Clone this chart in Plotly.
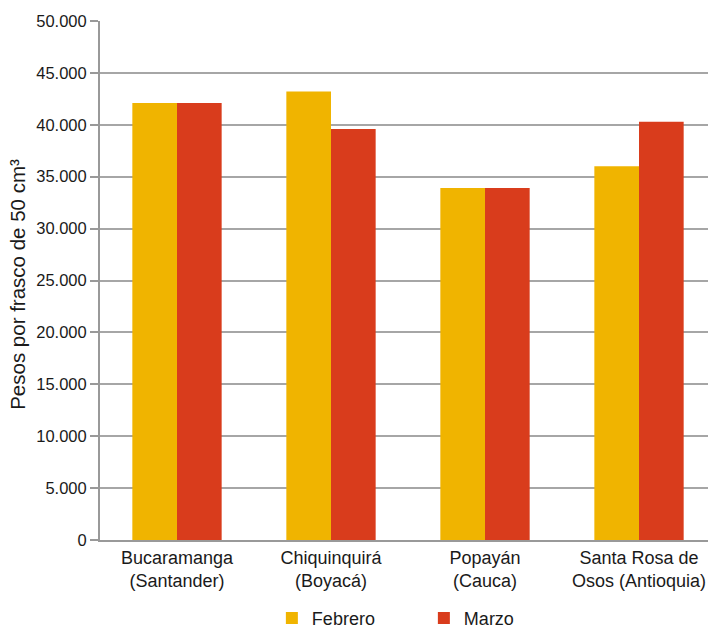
import plotly.graph_objects as go

categories = ["Bucaramanga<br>(Santander)", "Chiquinquirá<br>(Boyacá)", "Popayán<br>(Cauca)", "Santa Rosa de<br>Osos (Antioquia)"]
febrero = [42100, 43200, 33900, 36000]
marzo = [42100, 39600, 33900, 40300]
y_ticks = [0, 5000, 10000, 15000, 20000, 25000, 30000, 35000, 40000, 45000, 50000]

fig = go.Figure()
fig.add_trace(go.Bar(name="Febrero", x=list(range(len(categories))), y=febrero,
                     marker=dict(color="#F0B400", line=dict(width=0))))
fig.add_trace(go.Bar(name="Marzo", x=list(range(len(categories))), y=marzo,
                     marker=dict(color="#D93C1C", line=dict(width=0))))

fig.update_layout(
    width=708, height=629,
    margin=dict(l=100, r=0, t=21, b=89, autoexpand=False),
    paper_bgcolor="white", plot_bgcolor="white",
    barmode="group", bargap=0.42, bargroupgap=0,
    separators=",.",
    font=dict(family="Liberation Sans, Arial, sans-serif", size=16.5, color="#1a1a1a"),
    legend=dict(orientation="h", xref="container", yref="container", x=0.384, xanchor="left",
                y=0.017, yanchor="middle",
                font=dict(size=18), entrywidth=107, entrywidthmode="pixels"),
    xaxis=dict(range=[-0.5, 3.448], tickmode="array", tickvals=list(range(len(categories))),
               ticktext=categories, showgrid=False, showline=True, linecolor="#999999",
               linewidth=2, ticks="", zeroline=False, tickfont=dict(size=18)),
    yaxis=dict(range=[0, 50000], tickmode="array", tickvals=y_ticks, tickformat=",d",
               showgrid=True, gridcolor="#a6a6a6", gridwidth=2, showline=True,
               linecolor="#999999", linewidth=2, ticks="outside", ticklen=8,
               tickcolor="#999999", tickwidth=2, zeroline=False, tickfont=dict(size=16.5)),
    annotations=[dict(text="Pesos por frasco de 50 cm³", textangle=-90, xref="paper", yref="paper",
                      x=-0.137, y=0.493, xanchor="center", yanchor="middle", showarrow=False,
                      font=dict(size=20.5))],
)

fig.write_html("out.html", config={"displayModeBar": False},
               post_script="document.body.style.margin='0px';")
